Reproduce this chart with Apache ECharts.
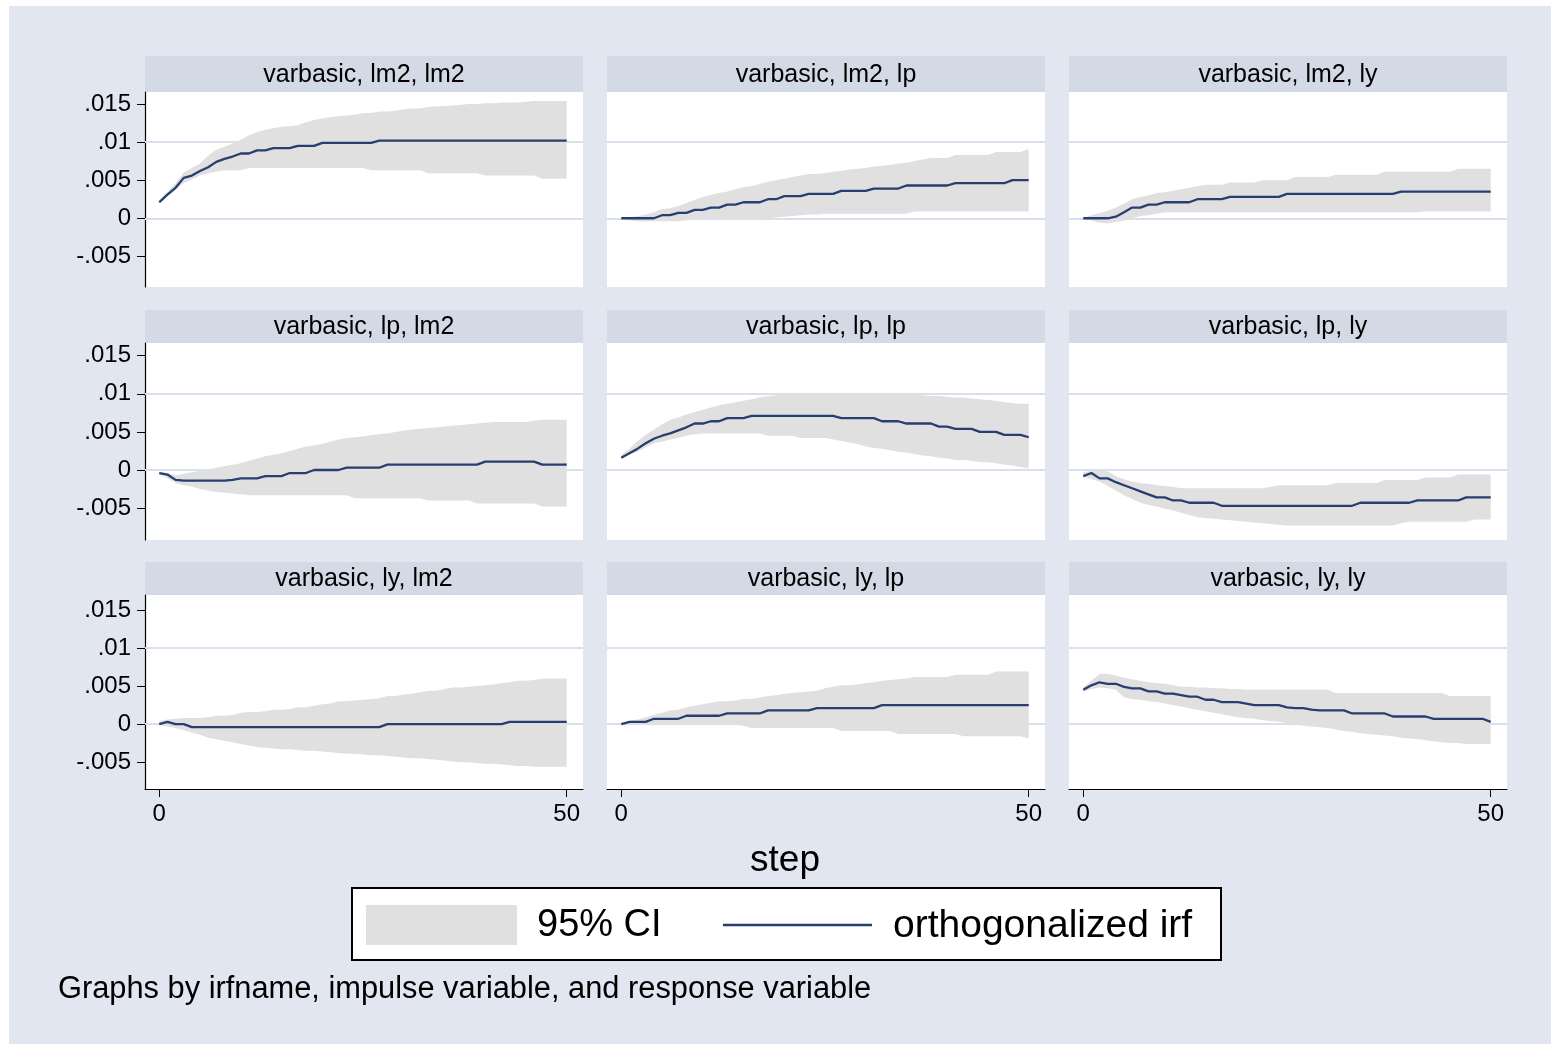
<!DOCTYPE html>
<html>
<head>
<meta charset="utf-8">
<title>varbasic orthogonalized irf</title>
<script src="https://cdn.jsdelivr.net/npm/echarts@6.0.0/dist/echarts.min.js"></script>
<style>
  html, body { margin: 0; padding: 0; background: #fff; }
  #frame { position: absolute; left: 9px; top: 6px; width: 1542px; height: 1038px; background: #e1e6f0; }
  #chart { position: absolute; left: 0; top: 0; width: 1551px; height: 1044px; }
</style>
</head>
<body>
<div id="frame"></div>
<div id="chart"></div>
<script>
// steps 0..50
const steps = [0,1,2,3,4,5,6,7,8,9,10,11,12,13,14,15,16,17,18,19,20,21,22,23,24,25,26,27,28,29,30,31,32,33,34,35,36,37,38,39,40,41,42,43,44,45,46,47,48,49,50];

const yTickValues = [-0.005, 0, 0.005, 0.01, 0.015];
const yTickLabels = ["-.005", "0", ".005", ".01", ".015"];
const xTickValues = [0, 50];
const xTickLabels = ["0", "50"];

const panelTitles = [
  "varbasic, lm2, lm2", "varbasic, lm2, lp", "varbasic, lm2, ly",
  "varbasic, lp, lm2", "varbasic, lp, lp", "varbasic, lp, ly",
  "varbasic, ly, lm2", "varbasic, ly, lp", "varbasic, ly, ly"
];

// impulse lm2 -> response lm2
const irf_m2_m2 = [.0021,.0031,.0040,.0053,.0056,.0062,.0067,.0074,.0078,.0081,.0085,.0085,.0089,.0089,.0092,.0092,.0092,.0095,.0095,.0095,.0099,.0099,.0099,.0099,.0099,.0099,.0099,.0102,.0102,.0102,.0102,.0102,.0102,.0102,.0102,.0102,.0102,.0102,.0102,.0102,.0102,.0102,.0102,.0102,.0102,.0102,.0102,.0102,.0102,.0102,.0102];
const lo_m2_m2 = [.0019,.0029,.0038,.0046,.0051,.0056,.0059,.0061,.0063,.0063,.0063,.0066,.0066,.0066,.0066,.0066,.0066,.0066,.0066,.0066,.0066,.0066,.0066,.0066,.0066,.0066,.0063,.0063,.0063,.0063,.0063,.0063,.0063,.0059,.0059,.0059,.0059,.0059,.0059,.0059,.0056,.0056,.0056,.0056,.0056,.0056,.0056,.0052,.0052,.0052,.0052];
const hi_m2_m2 = [.0024,.0034,.0046,.0060,.0066,.0072,.0082,.0090,.0094,.0098,.0103,.0109,.0113,.0116,.0118,.0120,.0121,.0122,.0126,.0129,.0131,.0133,.0134,.0135,.0136,.0138,.0138,.0140,.0140,.0141,.0143,.0144,.0144,.0146,.0147,.0147,.0148,.0149,.0150,.0150,.0151,.0151,.0152,.0152,.0152,.0153,.0154,.0154,.0154,.0154,.0154];

// lm2 -> lp
const irf_m2_p = [0,0,0,0,0,.0004,.0004,.0007,.0007,.0011,.0011,.0014,.0014,.0018,.0018,.0021,.0021,.0021,.0025,.0025,.0029,.0029,.0029,.0032,.0032,.0032,.0032,.0036,.0036,.0036,.0036,.0039,.0039,.0039,.0039,.0043,.0043,.0043,.0043,.0043,.0043,.0046,.0046,.0046,.0046,.0046,.0046,.0046,.0050,.0050,.0050];
const lo_m2_p = [0,-.0003,-.0004,-.0004,-.0004,-.0004,-.0004,-.0004,-.0003,-.0001,-.0001,-.0001,-.0001,-.0001,-.0001,-.0001,-.0001,-.0001,0,.0001,.0002,.0003,.0004,.0005,.0005,.0006,.0006,.0006,.0006,.0006,.0006,.0006,.0006,.0006,.0006,.0006,.0009,.0009,.0009,.0009,.0009,.0009,.0009,.0009,.0009,.0009,.0009,.0009,.0009,.0009,.0009];
const hi_m2_p = [0,.0001,.0003,.0005,.0008,.0012,.0013,.0016,.0020,.0024,.0028,.0031,.0033,.0035,.0038,.0041,.0042,.0045,.0048,.0050,.0052,.0054,.0056,.0058,.0058,.0059,.0061,.0062,.0064,.0065,.0066,.0068,.0069,.0070,.0072,.0073,.0075,.0077,.0079,.0079,.0079,.0083,.0083,.0083,.0083,.0083,.0087,.0087,.0087,.0087,.0091];

// lm2 -> ly
const irf_m2_y = [0,0,0,0,.0002,.0008,.0014,.0014,.0018,.0018,.0021,.0021,.0021,.0021,.0025,.0025,.0025,.0025,.0028,.0028,.0028,.0028,.0028,.0028,.0028,.0032,.0032,.0032,.0032,.0032,.0032,.0032,.0032,.0032,.0032,.0032,.0032,.0032,.0032,.0035,.0035,.0035,.0035,.0035,.0035,.0035,.0035,.0035,.0035,.0035,.0035];
const lo_m2_y = [0,-.0003,-.0006,-.0007,-.0005,-.0003,0,.0003,.0004,.0006,.0008,.0008,.0008,.0008,.0008,.0008,.0008,.0008,.0008,.0008,.0008,.0008,.0008,.0008,.0008,.0008,.0008,.0008,.0008,.0008,.0008,.0008,.0008,.0008,.0008,.0008,.0008,.0008,.0008,.0008,.0008,.0008,.0009,.0009,.0009,.0009,.0009,.0009,.0009,.0009,.0009];
const hi_m2_y = [0,.0004,.0007,.0010,.0014,.0019,.0025,.0028,.0030,.0033,.0034,.0036,.0038,.0040,.0042,.0044,.0044,.0044,.0047,.0047,.0047,.0047,.0050,.0050,.0050,.0050,.0054,.0054,.0054,.0054,.0054,.0057,.0057,.0057,.0057,.0057,.0057,.0061,.0061,.0061,.0061,.0061,.0061,.0061,.0061,.0061,.0065,.0065,.0065,.0065,.0065];

// lp -> lm2
const irf_p_m2 = [-.0004,-.0006,-.0013,-.0014,-.0014,-.0014,-.0014,-.0014,-.0014,-.0013,-.0011,-.0011,-.0011,-.0008,-.0008,-.0008,-.0004,-.0004,-.0004,0,0,0,0,.0003,.0003,.0003,.0003,.0003,.0007,.0007,.0007,.0007,.0007,.0007,.0007,.0007,.0007,.0007,.0007,.0007,.0011,.0011,.0011,.0011,.0011,.0011,.0011,.0007,.0007,.0007,.0007];
const lo_p_m2 = [-.0005,-.0011,-.0017,-.0020,-.0022,-.0025,-.0027,-.0029,-.0030,-.0031,-.0032,-.0033,-.0033,-.0033,-.0033,-.0033,-.0033,-.0033,-.0033,-.0033,-.0033,-.0033,-.0033,-.0033,-.0037,-.0037,-.0037,-.0037,-.0037,-.0037,-.0037,-.0037,-.0037,-.0040,-.0040,-.0040,-.0040,-.0040,-.0040,-.0044,-.0044,-.0044,-.0044,-.0044,-.0044,-.0044,-.0044,-.0048,-.0048,-.0048,-.0048];
const hi_p_m2 = [-.0002,-.0004,-.0007,-.0005,-.0003,-.0001,.0001,.0003,.0005,.0007,.0009,.0012,.0015,.0018,.0020,.0022,.0025,.0028,.0031,.0032,.0034,.0037,.0040,.0042,.0043,.0044,.0046,.0047,.0048,.0050,.0052,.0053,.0054,.0055,.0056,.0057,.0058,.0059,.0060,.0061,.0062,.0063,.0063,.0063,.0063,.0063,.0065,.0066,.0066,.0066,.0066];

// lp -> lp
const irf_p_p = [.0016,.0022,.0028,.0035,.0041,.0045,.0048,.0052,.0056,.0061,.0061,.0064,.0064,.0068,.0068,.0068,.0071,.0071,.0071,.0071,.0071,.0071,.0071,.0071,.0071,.0071,.0071,.0068,.0068,.0068,.0068,.0068,.0064,.0064,.0064,.0061,.0061,.0061,.0061,.0057,.0057,.0054,.0054,.0054,.0050,.0050,.0050,.0046,.0046,.0046,.0043];
const lo_p_p = [.0016,.0020,.0024,.0030,.0035,.0037,.0040,.0042,.0045,.0047,.0048,.0048,.0048,.0048,.0048,.0048,.0048,.0048,.0045,.0045,.0045,.0045,.0042,.0042,.0042,.0042,.0040,.0038,.0036,.0034,.0031,.0029,.0028,.0026,.0024,.0023,.0021,.0019,.0018,.0016,.0015,.0013,.0013,.0012,.0010,.0010,.0009,.0007,.0006,.0004,.0002];
const hi_p_p = [.0020,.0028,.0038,.0046,.0053,.0060,.0066,.0069,.0073,.0076,.0079,.0082,.0085,.0087,.0089,.0091,.0093,.0095,.0097,.0098,.0100,.0101,.0101,.0101,.0101,.0101,.0101,.0101,.0101,.0101,.0101,.0101,.0101,.0101,.0100,.0100,.0099,.0098,.0097,.0097,.0096,.0095,.0095,.0094,.0093,.0092,.0091,.0089,.0088,.0087,.0087];

// lp -> ly
const irf_p_y = [-.0008,-.0004,-.0011,-.0011,-.0016,-.0020,-.0024,-.0028,-.0032,-.0036,-.0036,-.0040,-.0040,-.0043,-.0043,-.0043,-.0043,-.0047,-.0047,-.0047,-.0047,-.0047,-.0047,-.0047,-.0047,-.0047,-.0047,-.0047,-.0047,-.0047,-.0047,-.0047,-.0047,-.0047,-.0043,-.0043,-.0043,-.0043,-.0043,-.0043,-.0043,-.0040,-.0040,-.0040,-.0040,-.0040,-.0040,-.0036,-.0036,-.0036,-.0036];
const lo_p_y = [-.0009,-.0012,-.0015,-.0021,-.0027,-.0033,-.0038,-.0043,-.0046,-.0048,-.0051,-.0053,-.0056,-.0059,-.0062,-.0063,-.0064,-.0065,-.0066,-.0067,-.0068,-.0069,-.0070,-.0071,-.0072,-.0073,-.0073,-.0073,-.0073,-.0073,-.0073,-.0073,-.0073,-.0073,-.0073,-.0073,-.0073,-.0073,-.0073,-.0070,-.0068,-.0068,-.0068,-.0068,-.0068,-.0068,-.0068,-.0068,-.0065,-.0065,-.0065];
const hi_p_y = [-.0003,-.0001,0,-.0002,-.0008,-.0012,-.0015,-.0017,-.0018,-.0020,-.0021,-.0022,-.0024,-.0024,-.0024,-.0024,-.0024,-.0024,-.0024,-.0024,-.0024,-.0024,-.0024,-.0022,-.0020,-.0020,-.0020,-.0020,-.0020,-.0020,-.0020,-.0017,-.0017,-.0017,-.0017,-.0017,-.0017,-.0013,-.0013,-.0013,-.0013,-.0013,-.0010,-.0010,-.0010,-.0010,-.0006,-.0006,-.0006,-.0006,-.0006];

// ly -> lm2
const irf_y_m2 = [0,.0003,0,0,-.0004,-.0004,-.0004,-.0004,-.0004,-.0004,-.0004,-.0004,-.0004,-.0004,-.0004,-.0004,-.0004,-.0004,-.0004,-.0004,-.0004,-.0004,-.0004,-.0004,-.0004,-.0004,-.0004,-.0004,0,0,0,0,0,0,0,0,0,0,0,0,0,0,0,.0003,.0003,.0003,.0003,.0003,.0003,.0003,.0003];
const lo_y_m2 = [-.0001,-.0003,-.0005,-.0008,-.0011,-.0014,-.0018,-.0020,-.0022,-.0024,-.0026,-.0028,-.0030,-.0031,-.0032,-.0033,-.0033,-.0034,-.0035,-.0035,-.0036,-.0037,-.0038,-.0039,-.0039,-.0040,-.0041,-.0041,-.0042,-.0043,-.0044,-.0045,-.0045,-.0046,-.0047,-.0048,-.0049,-.0050,-.0050,-.0051,-.0052,-.0052,-.0053,-.0054,-.0055,-.0055,-.0056,-.0056,-.0056,-.0056,-.0056];
const hi_y_m2 = [.0004,.0006,.0007,.0008,.0008,.0008,.0009,.0011,.0011,.0012,.0015,.0016,.0016,.0017,.0019,.0019,.0020,.0022,.0022,.0024,.0026,.0027,.0030,.0030,.0031,.0032,.0033,.0034,.0037,.0037,.0039,.0040,.0042,.0044,.0044,.0046,.0048,.0048,.0049,.0050,.0051,.0052,.0054,.0055,.0057,.0057,.0058,.0060,.0060,.0060,.0060];

// ly -> lp
const irf_y_p = [0,.0003,.0003,.0003,.0007,.0007,.0007,.0007,.0011,.0011,.0011,.0011,.0011,.0014,.0014,.0014,.0014,.0014,.0018,.0018,.0018,.0018,.0018,.0018,.0021,.0021,.0021,.0021,.0021,.0021,.0021,.0021,.0025,.0025,.0025,.0025,.0025,.0025,.0025,.0025,.0025,.0025,.0025,.0025,.0025,.0025,.0025,.0025,.0025,.0025,.0025];
const lo_y_p = [0,0,0,-.0001,-.0001,-.0001,-.0001,-.0001,-.0001,-.0001,-.0001,-.0001,-.0001,-.0001,-.0001,-.0002,-.0005,-.0005,-.0005,-.0005,-.0005,-.0005,-.0005,-.0005,-.0005,-.0005,-.0005,-.0009,-.0009,-.0009,-.0009,-.0009,-.0009,-.0009,-.0013,-.0013,-.0013,-.0013,-.0013,-.0013,-.0013,-.0013,-.0016,-.0016,-.0016,-.0016,-.0016,-.0016,-.0016,-.0016,-.0019];
const hi_y_p = [0,.0004,.0006,.0009,.0012,.0015,.0018,.0019,.0022,.0024,.0026,.0028,.0030,.0030,.0031,.0033,.0033,.0035,.0037,.0038,.0040,.0041,.0042,.0043,.0044,.0047,.0049,.0051,.0051,.0052,.0054,.0055,.0057,.0058,.0059,.0060,.0062,.0062,.0062,.0062,.0062,.0065,.0065,.0065,.0065,.0065,.0069,.0069,.0069,.0069,.0069];

// ly -> ly
const irf_y_y = [.0045,.0051,.0055,.0053,.0053,.0049,.0047,.0047,.0043,.0043,.0040,.0040,.0038,.0036,.0036,.0032,.0032,.0029,.0029,.0029,.0027,.0025,.0025,.0025,.0025,.0022,.0021,.0021,.0019,.0018,.0018,.0018,.0018,.0014,.0014,.0014,.0014,.0014,.0010,.0010,.0010,.0010,.0010,.0007,.0007,.0007,.0007,.0007,.0007,.0007,.0003];
const lo_y_y = [.0043,.0046,.0048,.0047,.0045,.0035,.0033,.0032,.0030,.0029,.0027,.0025,.0023,.0021,.0019,.0017,.0015,.0013,.0011,.0009,.0008,.0007,.0005,.0004,.0003,.0001,0,-.0002,-.0003,-.0004,-.0005,-.0007,-.0009,-.0010,-.0012,-.0013,-.0014,-.0015,-.0016,-.0018,-.0019,-.0020,-.0021,-.0023,-.0024,-.0025,-.0025,-.0026,-.0026,-.0026,-.0026];
const hi_y_y = [.0048,.0057,.0066,.0066,.0064,.0061,.0059,.0057,.0055,.0054,.0053,.0051,.0049,.0049,.0048,.0048,.0047,.0047,.0046,.0046,.0045,.0045,.0045,.0045,.0045,.0045,.0045,.0045,.0045,.0045,.0045,.0041,.0041,.0041,.0041,.0041,.0041,.0041,.0041,.0041,.0041,.0041,.0041,.0041,.0041,.0037,.0037,.0037,.0037,.0037,.0037];

const panels = [
  [irf_m2_m2, lo_m2_m2, hi_m2_m2], [irf_m2_p, lo_m2_p, hi_m2_p], [irf_m2_y, lo_m2_y, hi_m2_y],
  [irf_p_m2, lo_p_m2, hi_p_m2], [irf_p_p, lo_p_p, hi_p_p], [irf_p_y, lo_p_y, hi_p_y],
  [irf_y_m2, lo_y_m2, hi_y_m2], [irf_y_p, lo_y_p, hi_y_p], [irf_y_y, lo_y_y, hi_y_y]
];

// layout (pixels)
const colLeft = [145, 607, 1069];
const colWidth = 438;
const headTop = [56, 310, 562];
const headH = [36, 33, 33];
const plotTop = [92, 343, 595];
const plotH = [195, 197, 194];
const rowMin = [-0.00902, -0.00919, -0.00853];
const rowMax = [0.01657, 0.01667, 0.01697];

const FONT = '"Liberation Sans", Arial, sans-serif';
const NAVY = "#263e70";
const CI_GRAY = "#e0e0e0";
const STRIP = "#d3d9e5";
const GRIDLINE = "#d9dfeb";

const chart = echarts.init(document.getElementById("chart"), null, { renderer: "canvas" });

const grids = [], xAxes = [], yAxes = [], series = [], graphics = [];

const pick = (vals, labels) => v => {
  const i = vals.findIndex(t => Math.abs(t - v) < 1e-9);
  return i < 0 ? "" : labels[i];
};

panels.forEach(([irf, lo, hi], i) => {
  const r = Math.floor(i / 3), c = i % 3;
  grids.push({
    left: colLeft[c], top: plotTop[r], width: colWidth, height: plotH[r],
    show: true, backgroundColor: "#fff", borderWidth: 0, containLabel: false,
  });
  const bottomRow = r === 2;
  xAxes.push({
    type: "value", gridIndex: i, min: -1.75, max: 52,
    axisLine: { show: bottomRow, onZero: false, lineStyle: { color: "#000", width: 1.2 } },
    axisTick: { show: bottomRow, customValues: xTickValues, length: 8, lineStyle: { color: "#000", width: 1 } },
    axisLabel: {
      show: bottomRow, customValues: xTickValues, formatter: pick(xTickValues, xTickLabels),
      color: "#000", fontSize: 24, fontFamily: FONT, margin: 13,
    },
    splitLine: { show: false },
  });
  const firstCol = c === 0;
  yAxes.push({
    type: "value", gridIndex: i, min: rowMin[r], max: rowMax[r],
    axisLine: { show: firstCol, onZero: false, lineStyle: { color: "#000", width: 1.2 } },
    axisTick: { show: firstCol, customValues: yTickValues, length: 8, lineStyle: { color: "#000", width: 1 } },
    axisLabel: {
      show: firstCol, customValues: yTickValues, formatter: pick(yTickValues, yTickLabels),
      color: "#000", fontSize: 24, fontFamily: FONT, margin: 14,
    },
    splitLine: { show: false },
  });

  // CI band: lower bound plus stacked width; value is the first dimension so it is the stacked one
  const stack = "ci" + i;
  series.push({
    type: "line", xAxisIndex: i, yAxisIndex: i, stack, stackStrategy: "all",
    encode: { x: 1, y: 0 },
    data: steps.map((s, k) => [lo[k], s]),
    symbol: "none", lineStyle: { opacity: 0 }, silent: true, z: 2,
    markLine: {
      silent: true, symbol: "none", z: 1, animation: false,
      label: { show: false },
      lineStyle: { color: GRIDLINE, width: 2.2, type: "solid" },
      data: yTickValues.map(v => ({ yAxis: v })),
    },
  });
  series.push({
    type: "line", xAxisIndex: i, yAxisIndex: i, stack, stackStrategy: "all",
    encode: { x: 1, y: 0 },
    data: steps.map((s, k) => [hi[k] - lo[k], s]),
    symbol: "none", lineStyle: { opacity: 0 }, silent: true, z: 2,
    areaStyle: { color: CI_GRAY, opacity: 1 },
  });
  series.push({
    type: "line", xAxisIndex: i, yAxisIndex: i,
    data: steps.map((s, k) => [s, irf[k]]),
    symbol: "none", lineStyle: { color: NAVY, width: 2.3 }, z: 3,
  });

  // strip header
  graphics.push({
    type: "rect", silent: true,
    shape: { x: colLeft[c], y: headTop[r], width: colWidth, height: headH[r] },
    style: { fill: STRIP },
  });
  graphics.push({
    type: "text", silent: true,
    x: colLeft[c] + colWidth / 2, y: headTop[r] + headH[r] / 2 + 1,
    style: { text: panelTitles[i], fill: "#000", fontSize: 25, fontFamily: FONT, align: "center", verticalAlign: "middle" },
  });
});

// x title, legend, note
graphics.push(
  { type: "text", silent: true, x: 785, y: 861,
    style: { text: "step", fill: "#000", fontSize: 37, fontFamily: FONT, align: "center", verticalAlign: "middle" } },
  { type: "rect", silent: true, shape: { x: 352, y: 888, width: 869, height: 72 },
    style: { fill: "#fff", stroke: "#000", lineWidth: 2 } },
  { type: "rect", silent: true, shape: { x: 366, y: 905, width: 151, height: 40 },
    style: { fill: CI_GRAY } },
  { type: "text", silent: true, x: 537, y: 926,
    style: { text: "95% CI", fill: "#000", fontSize: 38, fontFamily: FONT, align: "left", verticalAlign: "middle" } },
  { type: "line", silent: true, shape: { x1: 723, y1: 925, x2: 872, y2: 925 },
    style: { stroke: NAVY, lineWidth: 2.3 } },
  { type: "text", silent: true, x: 893, y: 926,
    style: { text: "orthogonalized irf", fill: "#000", fontSize: 39, fontFamily: FONT, align: "left", verticalAlign: "middle" } },
  { type: "text", silent: true, x: 58, y: 990,
    style: { text: "Graphs by irfname, impulse variable, and response variable", fill: "#000", fontSize: 30.8, fontFamily: FONT, align: "left", verticalAlign: "middle" } }
);

chart.setOption({
  backgroundColor: "transparent",
  animation: false,
  grid: grids,
  xAxis: xAxes,
  yAxis: yAxes,
  series,
  graphic: { elements: graphics },
});

window.addEventListener("resize", () => chart.resize());
</script>
</body>
</html>
